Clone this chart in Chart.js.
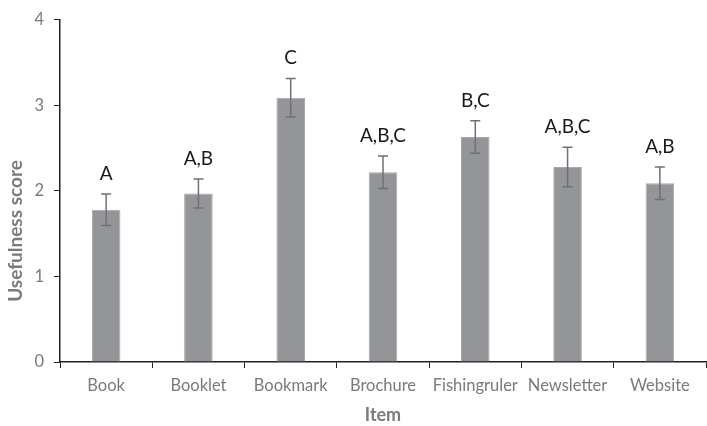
<!DOCTYPE html>
<html>
<head>
<meta charset="utf-8">
<script src="https://cdn.jsdelivr.net/npm/chart.js@4"></script>
<style>
  body { margin: 0; background: #fff; }
  #wrap { width: 707px; height: 426px; }
</style>
</head>
<body>
<div id="wrap"><canvas id="myChart"></canvas></div>
<script>
const items = ["Book", "Booklet", "Bookmark", "Brochure", "Fishingruler", "Newsletter", "Website"];
const scores = [1.78, 1.97, 3.09, 2.22, 2.63, 2.28, 2.09];
const errors = [0.185, 0.17, 0.225, 0.19, 0.19, 0.23, 0.19];
const letters = ["A", "A,B", "C", "A,B,C", "B,C", "A,B,C", "A,B"];
const yTicks = [0, 1, 2, 3, 4];
const yTitle = "Usefulness score";

const fontFamily = "Lato, 'Open Sans', sans-serif";

// error bars + group letters
const errorBars = {
  id: "errorBars",
  afterDatasetsDraw(chart) {
    const ctx = chart.ctx;
    const y = chart.scales.y;
    const meta = chart.getDatasetMeta(0);
    ctx.save();
    meta.data.forEach((bar, i) => {
      const x = bar.x;
      const hi = y.getPixelForValue(scores[i] + errors[i]);
      const lo = y.getPixelForValue(scores[i] - errors[i]);
      ctx.strokeStyle = "#707174";
      ctx.lineWidth = 1.5;
      ctx.beginPath();
      ctx.moveTo(x, hi);
      ctx.lineTo(x, lo);
      ctx.moveTo(x - 5, hi);
      ctx.lineTo(x + 5, hi);
      ctx.moveTo(x - 5, lo);
      ctx.lineTo(x + 5, lo);
      ctx.stroke();

      ctx.fillStyle = "#1a1a1a";
      ctx.font = "19px " + fontFamily;
      ctx.textAlign = "center";
      ctx.textBaseline = "alphabetic";
      ctx.fillText(letters[i], x, hi - 14);
    });
    ctx.restore();
  },
};

// y title sits lower than the axis middle in the original, so draw it by hand
const yTitlePlugin = {
  id: "yTitle",
  afterDraw(chart) {
    const ctx = chart.ctx;
    ctx.save();
    ctx.translate(16, 231);
    ctx.rotate(-Math.PI / 2);
    ctx.fillStyle = "#7a7a7a";
    ctx.font = "bold 19px " + fontFamily;
    ctx.textAlign = "center";
    ctx.textBaseline = "middle";
    ctx.fillText(yTitle, 0, 0);
    ctx.restore();
  },
};

const config = {
  type: "bar",
  data: {
    labels: items,
    datasets: [
      {
        label: yTitle,
        data: scores,
        backgroundColor: "#939598",
        borderColor: "#a7a9ac",
        borderWidth: 1,
        barPercentage: 0.31,
        categoryPercentage: 1,
      },
    ],
  },
  options: {
    responsive: true,
    maintainAspectRatio: false,
    animation: false,
    layout: {
      padding: { top: 8, right: 1, bottom: 0, left: 0 },
    },
    scales: {
      x: {
        grid: {
          offset: true,
          drawOnChartArea: false,
          drawTicks: true,
          tickLength: 6,
          color: "#222",
        },
        border: { color: "#222", width: 1.5 },
        ticks: {
          color: "#7a7a7a",
          font: { family: fontFamily, size: 16.5 },
          padding: 8,
          maxRotation: 0,
          autoSkip: false,
        },
        title: {
          display: true,
          text: "Item",
          color: "#7a7a7a",
          font: { family: fontFamily, size: 18, weight: "bold" },
          padding: { top: 2, bottom: 0 },
        },
        afterFit(scale) {
          scale.height = 64;
        },
      },
      y: {
        min: 0,
        max: 4,
        afterBuildTicks(scale) {
          scale.ticks = yTicks.map((v) => ({ value: v }));
        },
        grid: {
          drawOnChartArea: false,
          drawTicks: true,
          tickLength: 6,
          color: "#222",
        },
        border: { color: "#222", width: 1.5 },
        ticks: {
          color: "#7a7a7a",
          font: { family: fontFamily, size: 16.5 },
          padding: 10,
        },
        afterFit(scale) {
          scale.width = 60;
        },
      },
    },
    plugins: {
      legend: { display: false },
      tooltip: { enabled: false },
    },
  },
  plugins: [errorBars, yTitlePlugin],
};

const ctx = document.getElementById("myChart").getContext("2d");
new Chart(ctx, config);
</script>
</body>
</html>
